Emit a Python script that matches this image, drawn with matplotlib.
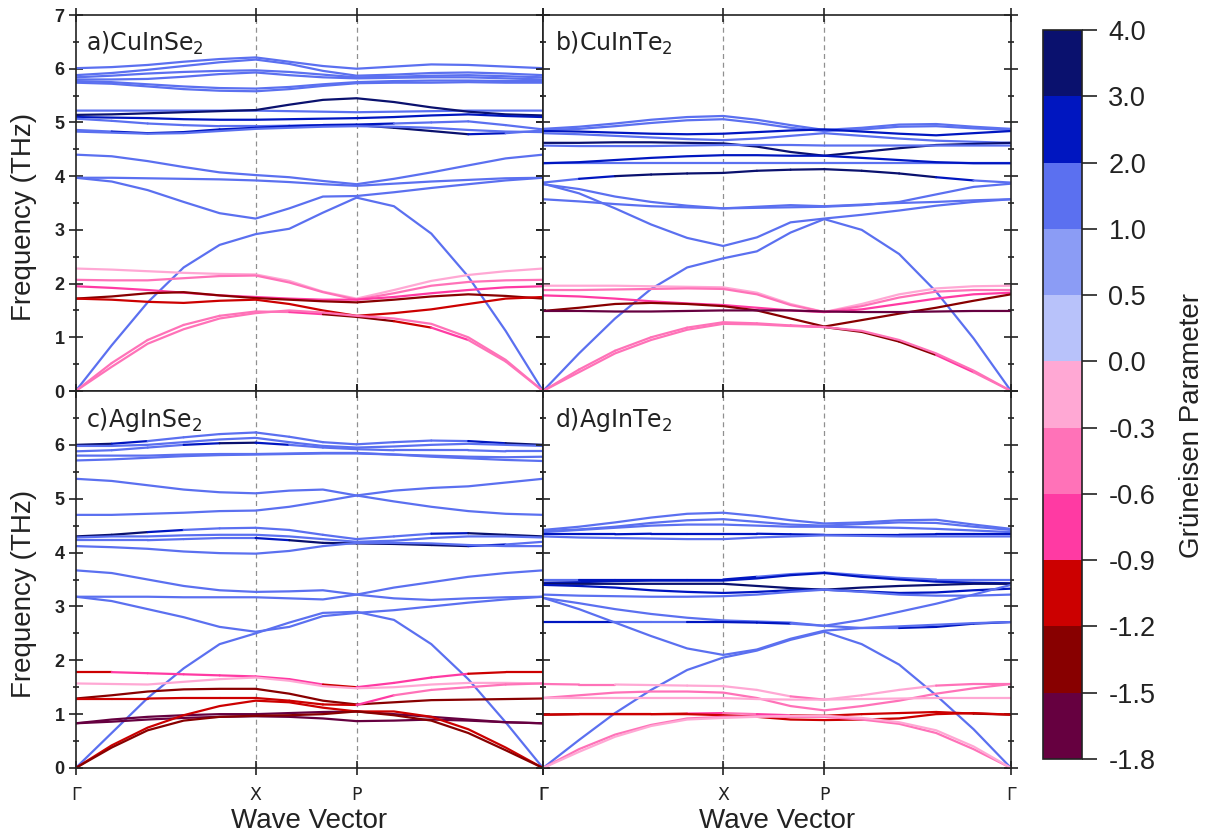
import matplotlib
matplotlib.use('Agg')
import matplotlib.pyplot as plt
from matplotlib.colors import ListedColormap, BoundaryNorm
from matplotlib.collections import LineCollection
from matplotlib.cm import ScalarMappable
from matplotlib.ticker import MultipleLocator, FixedLocator
import numpy as np

plt.rcParams['axes.unicode_minus'] = False

# ---------------- data ----------------
kpath = [0.0, 0.077, 0.154, 0.231, 0.308, 0.385, 0.457, 0.529, 0.601, 0.681, 0.761, 0.840, 0.920, 1.0]
k_ticks = [0.0, 0.385, 0.601, 1.0]
k_labels = ['Γ', 'X', 'P', 'Γ']
freq_ticks = [0, 1, 2, 3, 4, 5, 6, 7]
gamma_bounds = [-1.8, -1.5, -1.2, -0.9, -0.6, -0.3, 0.0, 0.5, 1.0, 2.0, 3.0, 4.0]
gamma_colors = ['#660040', '#880000', '#cc0000', '#ff3aa3', '#ff72b8', '#ffa8d4',
                '#b8c2fa', '#8b9cf5', '#5b70f0', '#0016c0', '#0a116e']

titles = ['a)CuInSe$_2$', 'b)CuInTe$_2$', 'c)AgInSe$_2$', 'd)AgInTe$_2$']

# panel a: CuInSe2
a_freq = [
    [6.01, 6.03, 6.07, 6.13, 6.18, 6.21, 6.13, 6.05, 6.00, 6.04, 6.08, 6.07, 6.04, 6.01],
    [5.88, 5.92, 5.98, 6.05, 6.12, 6.17, 6.09, 5.96, 5.87, 5.89, 5.92, 5.93, 5.91, 5.88],
    [5.84, 5.87, 5.91, 5.94, 5.96, 5.97, 5.94, 5.89, 5.84, 5.85, 5.87, 5.88, 5.86, 5.84],
    [5.80, 5.80, 5.81, 5.85, 5.90, 5.93, 5.88, 5.84, 5.82, 5.83, 5.84, 5.84, 5.82, 5.80],
    [5.77, 5.75, 5.71, 5.67, 5.64, 5.63, 5.66, 5.71, 5.75, 5.77, 5.78, 5.78, 5.77, 5.77],
    [5.74, 5.72, 5.67, 5.62, 5.59, 5.58, 5.62, 5.68, 5.73, 5.74, 5.74, 5.75, 5.74, 5.74],
    [5.22, 5.22, 5.22, 5.22, 5.22, 5.22, 5.21, 5.20, 5.19, 5.20, 5.21, 5.22, 5.22, 5.22],
    [5.14, 5.15, 5.17, 5.19, 5.21, 5.23, 5.33, 5.42, 5.45, 5.38, 5.28, 5.20, 5.15, 5.13],
    [5.10, 5.09, 5.08, 5.06, 5.05, 5.05, 5.06, 5.07, 5.08, 5.10, 5.13, 5.15, 5.12, 5.10],
    [5.07, 5.03, 4.98, 4.95, 4.93, 4.93, 4.94, 4.95, 4.95, 4.90, 4.84, 4.78, 4.80, 4.85],
    [4.86, 4.83, 4.80, 4.82, 4.87, 4.90, 4.93, 4.95, 4.96, 4.98, 5.00, 5.02, 4.95, 4.87],
    [4.83, 4.81, 4.79, 4.80, 4.84, 4.88, 4.90, 4.92, 4.93, 4.92, 4.90, 4.86, 4.83, 4.82],
    [4.40, 4.37, 4.28, 4.17, 4.07, 4.02, 3.98, 3.91, 3.85, 3.95, 4.07, 4.20, 4.33, 4.40],
    [3.97, 3.97, 3.96, 3.95, 3.94, 3.92, 3.89, 3.85, 3.82, 3.86, 3.90, 3.93, 3.96, 3.97],
    [3.97, 3.90, 3.74, 3.52, 3.31, 3.21, 3.40, 3.62, 3.63, 3.70, 3.78, 3.85, 3.92, 3.97],
    [0.00, 0.85, 1.65, 2.30, 2.72, 2.92, 3.02, 3.32, 3.60, 3.44, 2.93, 2.13, 1.12, 0.00],
    [2.28, 2.26, 2.23, 2.20, 2.18, 2.17, 2.05, 1.85, 1.72, 1.88, 2.05, 2.16, 2.23, 2.28],
    [2.07, 2.06, 2.06, 2.10, 2.14, 2.15, 2.02, 1.84, 1.70, 1.82, 1.96, 2.03, 2.06, 2.07],
    [1.95, 1.92, 1.88, 1.83, 1.78, 1.75, 1.72, 1.70, 1.70, 1.75, 1.82, 1.88, 1.93, 1.95],
    [1.72, 1.76, 1.82, 1.84, 1.78, 1.73, 1.70, 1.67, 1.65, 1.70, 1.76, 1.80, 1.77, 1.72],
    [1.72, 1.70, 1.66, 1.64, 1.68, 1.70, 1.62, 1.50, 1.40, 1.45, 1.52, 1.62, 1.72, 1.75],
    [0.00, 0.52, 0.95, 1.23, 1.40, 1.48, 1.47, 1.43, 1.38, 1.30, 1.18, 0.95, 0.55, 0.00],
    [0.00, 0.45, 0.88, 1.15, 1.35, 1.45, 1.50, 1.46, 1.40, 1.35, 1.25, 1.00, 0.58, 0.00],
]
a_gamma = [1.5, 1.5, 1.5, 1.5, 1.5, 1.5, 1.5, 3.5, 2.5,
           [1.5, 1.5, 1.5, 1.5, 1.5, 1.5, 1.5, 1.5, 3.5, 3.5, 3.5, 3.5, 1.5, 1.5],
           [1.5, 1.5, 2.5, 2.5, 2.5, 2.5, 2.5, 2.5, 2.5, 1.5, 1.5, 1.5, 1.5, 1.5],
           1.5, 1.5, 1.5, 1.5, 1.5,
           -0.15, -0.45, -0.7, -1.35, -1.0,
           [-0.45, -0.45, -0.45, -0.45, -0.45, -0.45, -0.45, -1.3, -1.3, -1.3, -1.0, -0.45, -0.45, -0.45],
           -0.45]

# panel b: CuInTe2
b_freq = [
    [4.88, 4.92, 4.98, 5.05, 5.10, 5.12, 5.05, 4.95, 4.86, 4.90, 4.96, 4.97, 4.92, 4.88],
    [4.86, 4.88, 4.93, 4.99, 5.04, 5.06, 4.99, 4.90, 4.84, 4.87, 4.92, 4.93, 4.89, 4.86],
    [4.84, 4.83, 4.81, 4.79, 4.78, 4.79, 4.82, 4.85, 4.87, 4.83, 4.79, 4.76, 4.80, 4.84],
    [4.80, 4.78, 4.75, 4.72, 4.69, 4.67, 4.70, 4.75, 4.80, 4.75, 4.70, 4.66, 4.64, 4.62],
    [4.62, 4.62, 4.63, 4.63, 4.62, 4.61, 4.55, 4.45, 4.38, 4.45, 4.52, 4.58, 4.60, 4.62],
    [4.57, 4.56, 4.56, 4.56, 4.57, 4.58, 4.58, 4.58, 4.57, 4.57, 4.57, 4.57, 4.57, 4.57],
    [4.24, 4.24, 4.24, 4.24, 4.24, 4.24, 4.24, 4.24, 4.24, 4.24, 4.24, 4.24, 4.24, 4.24],
    [4.24, 4.26, 4.30, 4.34, 4.37, 4.39, 4.39, 4.38, 4.38, 4.34, 4.30, 4.26, 4.24, 4.24],
    [3.88, 3.95, 4.00, 4.03, 4.05, 4.06, 4.10, 4.12, 4.13, 4.10, 4.05, 3.98, 3.92, 3.88],
    [3.85, 3.76, 3.62, 3.52, 3.45, 3.40, 3.41, 3.42, 3.43, 3.46, 3.52, 3.66, 3.80, 3.86],
    [3.57, 3.53, 3.48, 3.44, 3.42, 3.40, 3.43, 3.46, 3.44, 3.47, 3.50, 3.52, 3.55, 3.57],
    [3.86, 3.68, 3.40, 3.10, 2.85, 2.70, 2.86, 3.14, 3.21, 3.28, 3.36, 3.45, 3.52, 3.57],
    [0.00, 0.70, 1.35, 1.90, 2.30, 2.47, 2.60, 2.95, 3.20, 3.00, 2.55, 1.85, 0.98, 0.00],
    [1.96, 1.96, 1.96, 1.95, 1.94, 1.93, 1.83, 1.62, 1.47, 1.62, 1.80, 1.91, 1.95, 1.96],
    [1.88, 1.88, 1.89, 1.90, 1.91, 1.90, 1.80, 1.60, 1.47, 1.58, 1.74, 1.85, 1.88, 1.88],
    [1.78, 1.76, 1.72, 1.67, 1.63, 1.60, 1.55, 1.50, 1.47, 1.52, 1.62, 1.72, 1.80, 1.83],
    [1.49, 1.55, 1.62, 1.64, 1.62, 1.58, 1.50, 1.35, 1.20, 1.32, 1.44, 1.55, 1.68, 1.80],
    [1.49, 1.49, 1.48, 1.48, 1.49, 1.50, 1.50, 1.50, 1.48, 1.47, 1.47, 1.48, 1.49, 1.49],
    [0.00, 0.40, 0.75, 1.00, 1.18, 1.28, 1.26, 1.22, 1.19, 1.10, 0.92, 0.67, 0.35, 0.00],
    [0.00, 0.35, 0.70, 0.95, 1.14, 1.25, 1.24, 1.21, 1.19, 1.12, 0.95, 0.70, 0.38, 0.00],
]
b_gamma = [1.5, 1.5, 2.5, 1.5, 3.5, 1.5, 1.5, 2.5,
           [1.5, 1.5, 3.0, 3.0, 3.0, 3.0, 3.0, 3.0, 3.0, 3.0, 3.0, 3.0, 1.5, 1.5],
           1.5, 1.5, 1.5, 1.5,
           -0.15, -0.45, -0.7, -1.3, -1.6,
           [-0.45, -0.45, -0.45, -0.45, -0.45, -0.45, -0.45, -0.45, -1.3, -1.3, -1.3, -1.3, -0.45, -0.45],
           -0.45]

# panel c: AgInSe2
c_freq = [
    [6.00, 6.02, 6.07, 6.14, 6.20, 6.23, 6.15, 6.05, 6.01, 6.05, 6.08, 6.07, 6.03, 6.00],
    [5.98, 5.98, 6.00, 6.05, 6.10, 6.13, 6.05, 5.98, 5.95, 5.97, 6.00, 6.02, 6.00, 5.98],
    [5.88, 5.90, 5.95, 6.00, 6.03, 6.04, 6.00, 5.95, 5.92, 5.90, 5.90, 5.90, 5.88, 5.88],
    [5.80, 5.80, 5.80, 5.82, 5.83, 5.83, 5.84, 5.85, 5.85, 5.82, 5.80, 5.78, 5.77, 5.78],
    [5.71, 5.73, 5.76, 5.79, 5.81, 5.82, 5.83, 5.84, 5.84, 5.82, 5.78, 5.75, 5.72, 5.70],
    [5.37, 5.33, 5.25, 5.17, 5.12, 5.10, 5.15, 5.17, 5.06, 4.95, 4.85, 4.77, 4.72, 4.70],
    [4.70, 4.70, 4.72, 4.74, 4.77, 4.78, 4.85, 4.95, 5.06, 5.15, 5.20, 5.23, 5.30, 5.37],
    [4.30, 4.33, 4.38, 4.42, 4.45, 4.46, 4.42, 4.33, 4.25, 4.30, 4.35, 4.36, 4.33, 4.30],
    [4.28, 4.30, 4.30, 4.32, 4.33, 4.33, 4.30, 4.25, 4.20, 4.22, 4.27, 4.30, 4.30, 4.28],
    [4.23, 4.23, 4.23, 4.25, 4.27, 4.27, 4.23, 4.18, 4.17, 4.16, 4.14, 4.12, 4.15, 4.20],
    [4.12, 4.10, 4.07, 4.02, 3.99, 3.98, 4.03, 4.12, 4.18, 4.18, 4.17, 4.14, 4.12, 4.12],
    [3.67, 3.62, 3.50, 3.38, 3.30, 3.27, 3.28, 3.30, 3.22, 3.15, 3.12, 3.15, 3.17, 3.18],
    [3.18, 3.18, 3.18, 3.17, 3.17, 3.17, 3.15, 3.13, 3.22, 3.35, 3.45, 3.55, 3.62, 3.67],
    [3.18, 3.10, 2.95, 2.80, 2.62, 2.53, 2.62, 2.82, 2.88, 2.93, 3.00, 3.07, 3.13, 3.18],
    [0.00, 0.65, 1.30, 1.85, 2.30, 2.50, 2.70, 2.88, 2.90, 2.75, 2.30, 1.65, 0.85, 0.00],
    [1.78, 1.78, 1.76, 1.74, 1.72, 1.70, 1.65, 1.55, 1.50, 1.58, 1.68, 1.75, 1.78, 1.78],
    [1.57, 1.56, 1.55, 1.60, 1.65, 1.68, 1.62, 1.52, 1.48, 1.50, 1.55, 1.58, 1.58, 1.57],
    [1.29, 1.35, 1.42, 1.46, 1.47, 1.47, 1.38, 1.25, 1.18, 1.22, 1.26, 1.27, 1.28, 1.29],
    [1.29, 1.29, 1.29, 1.30, 1.30, 1.30, 1.25, 1.18, 1.17, 1.35, 1.45, 1.50, 1.55, 1.57],
    [0.83, 0.86, 0.90, 0.93, 0.95, 0.96, 0.95, 0.92, 0.87, 0.88, 0.90, 0.88, 0.85, 0.83],
    [0.83, 0.90, 0.95, 0.98, 1.00, 1.00, 1.02, 1.04, 1.05, 1.00, 0.95, 0.90, 0.85, 0.83],
    [0.00, 0.42, 0.75, 0.98, 1.15, 1.25, 1.22, 1.12, 1.05, 1.05, 0.95, 0.72, 0.38, 0.00],
    [0.00, 0.38, 0.70, 0.88, 0.95, 0.97, 0.98, 1.00, 1.05, 0.98, 0.88, 0.65, 0.33, 0.00],
]
c_gamma = [[3.0, 3.0, 1.5, 1.5, 1.5, 1.5, 1.5, 1.5, 1.5, 1.5, 1.5, 1.5, 3.0, 3.0],
           1.5,
           [1.5, 1.5, 1.5, 1.5, 3.0, 3.0, 1.5, 1.5, 1.5, 1.5, 1.5, 1.5, 1.5, 1.5],
           1.5, 1.5, 1.5, 1.5,
           [3.0, 3.0, 3.0, 1.5, 1.5, 1.5, 1.5, 1.5, 1.5, 1.5, 1.5, 3.0, 3.0, 3.0],
           1.5,
           [1.5, 1.5, 1.5, 1.5, 1.5, 1.5, 3.0, 3.0, 3.0, 3.0, 3.0, 3.0, 1.5, 1.5],
           1.5, 1.5, 1.5, 1.5, 1.5,
           [-1.0, -1.0, -0.7, -0.7, -0.7, -0.7, -0.7, -1.0, -1.0, -0.7, -0.7, -1.0, -1.0, -1.0],
           -0.15, -1.35,
           [-1.0, -1.0, -1.0, -1.0, -1.0, -1.0, -1.0, -1.0, -1.0, -0.45, -0.45, -0.45, -0.45, -0.45],
           -1.65, -1.65, -1.0, -1.35]

# panel d: AgInTe2
d_freq = [
    [4.42, 4.48, 4.56, 4.65, 4.72, 4.74, 4.68, 4.60, 4.54, 4.56, 4.60, 4.61, 4.52, 4.44],
    [4.40, 4.43, 4.48, 4.55, 4.60, 4.62, 4.57, 4.52, 4.50, 4.53, 4.56, 4.55, 4.48, 4.42],
    [4.38, 4.42, 4.46, 4.50, 4.52, 4.52, 4.50, 4.48, 4.48, 4.47, 4.46, 4.44, 4.41, 4.38],
    [4.34, 4.34, 4.34, 4.35, 4.35, 4.35, 4.35, 4.34, 4.33, 4.33, 4.33, 4.34, 4.34, 4.34],
    [4.30, 4.28, 4.27, 4.26, 4.25, 4.25, 4.28, 4.30, 4.32, 4.31, 4.30, 4.30, 4.30, 4.30],
    [3.50, 3.50, 3.50, 3.50, 3.50, 3.50, 3.55, 3.60, 3.63, 3.58, 3.53, 3.50, 3.50, 3.50],
    [3.44, 3.45, 3.47, 3.48, 3.48, 3.48, 3.52, 3.58, 3.62, 3.55, 3.50, 3.46, 3.44, 3.43],
    [3.42, 3.42, 3.42, 3.42, 3.42, 3.42, 3.38, 3.34, 3.31, 3.35, 3.38, 3.40, 3.42, 3.42],
    [3.40, 3.38, 3.35, 3.30, 3.27, 3.25, 3.27, 3.30, 3.31, 3.28, 3.25, 3.26, 3.30, 3.33],
    [3.22, 3.20, 3.19, 3.18, 3.18, 3.19, 3.22, 3.27, 3.31, 3.27, 3.22, 3.20, 3.20, 3.22],
    [3.16, 3.06, 2.95, 2.86, 2.79, 2.74, 2.72, 2.70, 2.64, 2.75, 2.90, 3.05, 3.22, 3.40],
    [2.71, 2.71, 2.71, 2.71, 2.71, 2.71, 2.70, 2.68, 2.64, 2.60, 2.60, 2.62, 2.68, 2.71],
    [3.16, 2.95, 2.70, 2.45, 2.22, 2.10, 2.20, 2.40, 2.55, 2.60, 2.63, 2.66, 2.69, 2.71],
    [0.00, 0.52, 1.02, 1.45, 1.82, 2.05, 2.18, 2.38, 2.53, 2.30, 1.92, 1.35, 0.72, 0.00],
    [1.56, 1.55, 1.55, 1.54, 1.53, 1.52, 1.45, 1.33, 1.27, 1.35, 1.45, 1.53, 1.56, 1.56],
    [1.30, 1.35, 1.40, 1.42, 1.42, 1.40, 1.30, 1.15, 1.07, 1.15, 1.25, 1.38, 1.48, 1.56],
    [1.30, 1.30, 1.30, 1.30, 1.30, 1.30, 1.28, 1.27, 1.27, 1.28, 1.29, 1.30, 1.30, 1.30],
    [0.99, 1.00, 1.00, 1.00, 1.01, 1.02, 1.00, 0.98, 0.97, 1.00, 1.02, 1.04, 1.01, 0.99],
    [0.99, 1.00, 1.00, 1.00, 1.00, 0.98, 0.95, 0.90, 0.89, 0.90, 0.92, 1.00, 1.02, 0.99],
    [0.00, 0.35, 0.62, 0.80, 0.92, 0.95, 0.96, 0.95, 0.95, 0.90, 0.82, 0.65, 0.35, 0.00],
    [0.00, 0.30, 0.58, 0.78, 0.90, 0.93, 0.95, 0.97, 0.97, 0.93, 0.85, 0.70, 0.40, 0.00],
]
d_gamma = [1.5, 1.5, 1.5,
           [2.5, 2.5, 1.5, 2.5, 2.5, 2.5, 1.5, 2.5, 2.5, 2.5, 2.5, 2.5, 2.5, 2.5],
           1.5,
           [1.5, 1.5, 2.5, 2.5, 2.5, 2.5, 1.5, 1.5, 1.5, 1.5, 1.5, 1.5, 1.5, 1.5],
           2.5, 3.0, 2.5, 1.5, 1.5,
           [2.5, 2.5, 1.5, 1.5, 1.5, 2.5, 2.5, 1.5, 1.5, 1.5, 1.5, 2.5, 2.5, 2.5],
           1.5, 1.5,
           [-0.45, -0.45, -0.45, -0.15, -0.15, -0.15, -0.15, -0.45, -0.45, -0.15, -0.15, -0.45, -0.45, -0.45],
           -0.45, -0.15,
           [-1.35, -1.35, -1.0, -1.0, -1.0, -0.45, -0.45, -1.0, -1.0, -1.0, -1.0, -1.0, -1.35, -1.35],
           -1.0, -0.45, -0.15]

# ---------------- plotting ----------------
cmap = ListedColormap(gamma_colors)
norm = BoundaryNorm(gamma_bounds, cmap.N)

W, H = 1212, 839
fig = plt.figure(figsize=(W / 100, H / 100), dpi=100)

xl, xm, xr = 75.7 / W, 543 / W, 1011 / W
yt, ym, yb = 1 - 15 / H, 1 - 391 / H, 1 - 768 / H
rects = [[xl, ym, xm - xl, yt - ym], [xm, ym, xr - xm, yt - ym],
         [xl, yb, xm - xl, ym - yb], [xm, yb, xr - xm, ym - yb]]

panels = [(a_freq, a_gamma), (b_freq, b_gamma), (c_freq, c_gamma), (d_freq, d_gamma)]
lw = 1.6

for i, (rect, (freqs, gammas)) in enumerate(zip(rects, panels)):
    ax = fig.add_axes(rect)
    ax.set_xlim(0, 1)
    ax.set_ylim(0, 7)
    for xv in k_ticks[1:-1]:
        ax.axvline(xv, color='#909090', lw=0.9, ls=(0, (4, 3)), zorder=1)
    for f, g in zip(freqs, gammas):
        if np.ndim(g) == 0:
            ax.plot(kpath, f, color=cmap(norm(g)), lw=lw, solid_capstyle='round',
                    solid_joinstyle='round', zorder=2)
        else:
            pts = np.column_stack([kpath, f])
            segs = np.stack([pts[:-1], pts[1:]], axis=1)
            gm = [(g[j] + g[j + 1]) / 2 for j in range(len(g) - 1)]
            lc = LineCollection(segs, colors=[cmap(norm(v)) for v in gm], linewidths=lw,
                                capstyle='round', zorder=2)
            ax.add_collection(lc)
    ax.xaxis.set_major_locator(FixedLocator(k_ticks))
    ax.yaxis.set_major_locator(FixedLocator(freq_ticks))
    ax.yaxis.set_minor_locator(MultipleLocator(0.5))
    ax.tick_params(axis='both', which='both', direction='inout', top=True, right=True,
                   width=1.2, colors='#222222')
    ax.tick_params(axis='both', which='major', length=10)
    ax.tick_params(axis='y', which='minor', length=5)
    for sp in ax.spines.values():
        sp.set_linewidth(1.2)
        sp.set_color('#222222')
    if i < 2:
        ax.set_xticklabels([])
    else:
        ax.set_xticklabels(k_labels, fontsize=12.5, family='DejaVu Sans', color='#222222')
        ax.tick_params(axis='x', pad=8)
    if i % 2 == 0:
        labs = [str(t) for t in freq_ticks]
        if i == 2:
            labs[-1] = ''
        ax.set_yticklabels(labs, fontsize=13, fontweight='bold', family='Liberation Sans',
                           color='#222222')
        ax.tick_params(axis='y', pad=3)
    else:
        ax.set_yticklabels([])
    ax.text(0.022 if i % 2 == 0 else 0.026, 0.905, titles[i], transform=ax.transAxes,
            fontsize=17, family='DejaVu Sans', color='#222222', va='baseline', ha='left',
            zorder=5)

# axis titles
for yc in [1 - 217 / H, 1 - 594 / H]:
    fig.text(24 / W, yc, 'Frequency (THz)', rotation=90, ha='center', va='center',
             fontsize=20, family='Liberation Sans', color='#222222')
for xc in [309 / W, 777 / W]:
    fig.text(xc, 1 - 828 / H, 'Wave Vector', ha='center', va='baseline',
             fontsize=20, family='Liberation Sans', color='#222222')

# colorbar
cax = fig.add_axes([1043 / W, 1 - 759 / H, 39 / W, 729 / H])
sm = ScalarMappable(norm=norm, cmap=cmap)
cb = fig.colorbar(sm, cax=cax, boundaries=gamma_bounds, spacing='uniform',
                  ticks=gamma_bounds, orientation='vertical')
cb.ax.set_yticklabels(['%.1f' % v for v in gamma_bounds])
cb.ax.tick_params(length=11, width=1.2, pad=8, labelsize=19.5, direction='out',
                  colors='#222222')
for t in cb.ax.get_yticklabels():
    t.set_family('Liberation Sans')
cb.outline.set_linewidth(1.2)
cb.outline.set_edgecolor('#222222')
fig.text(1192 / W, 1 - 425 / H, 'Grüneisen Parameter', rotation=90, ha='center', va='center',
         fontsize=20, family='Liberation Sans', color='#222222')

fig.savefig('out.png', dpi=100)
